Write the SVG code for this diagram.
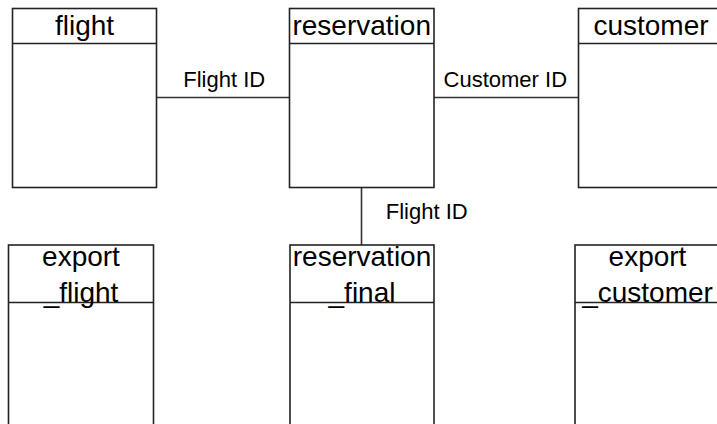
<svg xmlns="http://www.w3.org/2000/svg" width="717" height="424" viewBox="0 0 717 424">
<style>
.box{fill:#fff;stroke:#222;stroke-width:1.6}
.hl{stroke:#222;stroke-width:1.6}
.title{font-family:"Liberation Sans",Arial,sans-serif;font-size:28px;fill:#000;text-anchor:middle}
.lbl{font-family:"Liberation Sans",Arial,sans-serif;font-size:22px;fill:#000;text-anchor:middle}
.conn{stroke:#333;stroke-width:1.6;fill:none}
</style>
<rect width="717" height="424" fill="#fff"/>
<g id="connectors">
<line class="conn" x1="156.5" y1="97.5" x2="289.5" y2="97.5"/>
<line class="conn" x1="434" y1="97.5" x2="578.5" y2="97.5"/>
<line class="conn" x1="361.5" y1="187.5" x2="361.5" y2="245"/>
<text class="lbl" x="224.2" y="87">Flight ID</text>
<text class="lbl" x="505.3" y="87">Customer ID</text>
<text class="lbl" x="426.7" y="219">Flight ID</text>
</g>
<g id="flight">
<rect class="box" x="12.5" y="8.5" width="144" height="179"/>
<line class="hl" x1="12.5" y1="43.5" x2="156.5" y2="43.5"/>
<text class="title" x="84.5" y="35">flight</text>
</g>
<g id="reservation">
<rect class="box" x="289.5" y="8.5" width="144.5" height="179"/>
<line class="hl" x1="289.5" y1="43.5" x2="434" y2="43.5"/>
<text class="title" x="361.7" y="35">reservation</text>
</g>
<g id="customer">
<rect class="box" x="578.5" y="8.5" width="145" height="179"/>
<line class="hl" x1="578.5" y1="43.5" x2="723.5" y2="43.5"/>
<text class="title" x="651" y="35">customer</text>
</g>
<g id="export_flight">
<rect class="box" x="8.5" y="245" width="145" height="200"/>
<line class="hl" x1="8.5" y1="302.5" x2="153.5" y2="302.5"/>
<text class="title" x="81" y="266">export</text>
<text class="title" x="81" y="301.5">_flight</text>
</g>
<g id="reservation_final">
<rect class="box" x="290" y="245" width="144" height="200"/>
<line class="hl" x1="290" y1="302.5" x2="434" y2="302.5"/>
<text class="title" x="362" y="266">reservation</text>
<text class="title" x="362" y="301.5">_final</text>
</g>
<g id="export_customer">
<rect class="box" x="575" y="245" width="145" height="200"/>
<line class="hl" x1="575" y1="302.5" x2="720" y2="302.5"/>
<text class="title" x="647.5" y="266">export</text>
<text class="title" x="647.5" y="301.5">_customer</text>
</g>
</svg>
